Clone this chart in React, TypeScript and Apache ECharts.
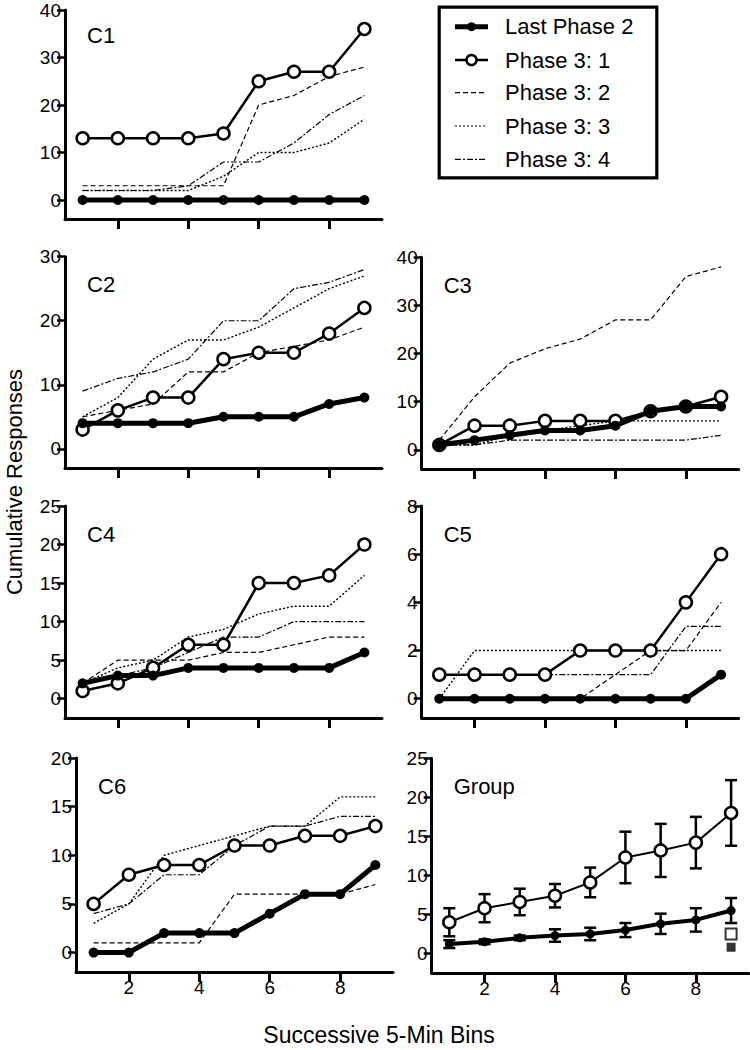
import React, { useEffect, useRef } from "react";
import * as echarts from "echarts";

const FONT = "'Liberation Sans', Arial, Helvetica, sans-serif";

const bins = [1, 2, 3, 4, 5, 6, 7, 8, 9];
const xTicks = [2, 4, 6, 8];
const seriesNames = ["Last Phase 2", "Phase 3: 1", "Phase 3: 2", "Phase 3: 3", "Phase 3: 4"];
const panelNames = ["C1", "C2", "C3", "C4", "C5", "C6", "Group"];

const c1Ticks = [0, 10, 20, 30, 40];
const c1Last = [0, 0, 0, 0, 0, 0, 0, 0, 0];
const c1P1 = [13, 13, 13, 13, 14, 25, 27, 27, 36];
const c1P2 = [3, 3, 3, 3, 3, 20, 22, 26, 28];
const c1P3 = [2, 2, 2, 2, 5, 10, 10, 12, 17];
const c1P4 = [2, 2, 2, 3, 8, 8, 12, 18, 22];

const c2Ticks = [0, 10, 20, 30];
const c2Last = [4, 4, 4, 4, 5, 5, 5, 7, 8];
const c2P1 = [3, 6, 8, 8, 14, 15, 15, 18, 22];
const c2P2 = [5, 6, 7, 12, 12, 15, 16, 17, 19];
const c2P3 = [5, 8, 14, 17, 17, 19, 22, 25, 27];
const c2P4 = [9, 11, 12, 14, 20, 20, 25, 26, 28];

const c3Ticks = [0, 10, 20, 30, 40];
const c3Last = [1, 2, 3, 4, 4, 5, 8, 9, 9];
const c3P1 = [1, 5, 5, 6, 6, 6, 8, 9, 11];
const c3P2 = [2, 11, 18, 21, 23, 27, 27, 36, 38];
const c3P3 = [1, 1, 3, 4, 5, 6, 6, 6, 6];
const c3P4 = [1, 1, 2, 2, 2, 2, 2, 2, 3];

const c4Ticks = [0, 5, 10, 15, 20, 25];
const c4Last = [2, 3, 3, 4, 4, 4, 4, 4, 6];
const c4P1 = [1, 2, 4, 7, 7, 15, 15, 16, 20];
const c4P2 = [2, 5, 5, 5, 6, 6, 7, 8, 8];
const c4P3 = [2, 4, 5, 8, 9, 11, 12, 12, 16];
const c4P4 = [2, 3, 4, 6, 8, 8, 10, 10, 10];

const c5Ticks = [0, 2, 4, 6, 8];
const c5Last = [0, 0, 0, 0, 0, 0, 0, 0, 1];
const c5P1 = [1, 1, 1, 1, 2, 2, 2, 4, 6];
const c5P2 = [0, 0, 0, 0, 0, 1, 2, 2, 4];
const c5P3 = [0, 2, 2, 2, 2, 2, 2, 2, 2];
const c5P4 = [1, 1, 1, 1, 1, 1, 1, 3, 3];

const c6Ticks = [0, 5, 10, 15, 20];
const c6Last = [0, 0, 2, 2, 2, 4, 6, 6, 9];
const c6P1 = [5, 8, 9, 9, 11, 11, 12, 12, 13];
const c6P2 = [1, 1, 1, 1, 6, 6, 6, 6, 7];
const c6P3 = [3, 5, 10, 11, 12, 13, 13, 16, 16];
const c6P4 = [4, 5, 8, 8, 11, 13, 13, 14, 14];

const groupTicks = [0, 5, 10, 15, 20, 25];
const groupLastMean = [1.2, 1.5, 2.0, 2.3, 2.5, 3.0, 3.8, 4.3, 5.5];
const groupLastErr = [0.5, 0.3, 0.3, 0.8, 0.8, 0.9, 1.3, 1.5, 1.6];
const groupP1Mean = [4.0, 5.8, 6.6, 7.4, 9.1, 12.3, 13.2, 14.2, 18.0];
const groupP1Err = [1.8, 1.8, 1.7, 1.5, 1.9, 3.3, 3.4, 3.3, 4.2];
const groupOpenSquare = [[9, 2.5]];
const groupFilledSquare = [[9, 0.8]];

const panelData = [
  { ticks: c1Ticks, lines: [c1Last, c1P1, c1P2, c1P3, c1P4] },
  { ticks: c2Ticks, lines: [c2Last, c2P1, c2P2, c2P3, c2P4] },
  { ticks: c3Ticks, lines: [c3Last, c3P1, c3P2, c3P3, c3P4] },
  { ticks: c4Ticks, lines: [c4Last, c4P1, c4P2, c4P3, c4P4] },
  { ticks: c5Ticks, lines: [c5Last, c5P1, c5P2, c5P3, c5P4] },
  { ticks: c6Ticks, lines: [c6Last, c6P1, c6P2, c6P3, c6P4] },
  { ticks: groupTicks, lines: null },
];

// layout only
const layouts = [
  { left: 65, top: 10, bottom: 219, yMin: -4, yMax: 40, xLabels: false },
  { left: 65, top: 256.7, bottom: 468, yMin: -3, yMax: 30, xLabels: false },
  { left: 421.7, top: 257.3, bottom: 469, yMin: -4, yMax: 40, xLabels: false },
  { left: 65, top: 506, bottom: 718, yMin: -2.5, yMax: 25, xLabels: false },
  { left: 421.7, top: 506, bottom: 718, yMin: -0.8, yMax: 8, xLabels: false },
  { left: 76, top: 758, bottom: 972, yMin: -2, yMax: 20, xLabels: true },
  { left: 431.7, top: 758.3, bottom: 973, yMin: -2.5, yMax: 25, xLabels: true },
];
const GRID_W = 317;

const dashStyles: any[] = [null, null, [5, 3], [2, 2], [6, 2, 2, 2]];

function pairs(vals: number[]) {
  return bins.map((b, i) => [b, vals[i]]);
}

function errData(mean: number[], err: number[]) {
  return bins.map((b, i) => [b, mean[i] - err[i], mean[i] + err[i]]);
}

function errorBarSeries(idx: number, data: number[][], name: string) {
  return {
    type: "custom",
    name,
    xAxisIndex: idx,
    yAxisIndex: idx,
    z: 3,
    encode: { x: 0, y: [1, 2] },
    data,
    renderItem: (params: any, api: any) => {
      const x = api.value(0);
      const lo = api.coord([x, api.value(1)]);
      const hi = api.coord([x, api.value(2)]);
      const hw = 6;
      const st = { stroke: "#000", lineWidth: 2.5 };
      return {
        type: "group",
        children: [
          { type: "line", shape: { x1: lo[0], y1: lo[1], x2: hi[0], y2: hi[1] }, style: st },
          { type: "line", shape: { x1: hi[0] - hw, y1: hi[1], x2: hi[0] + hw, y2: hi[1] }, style: st },
          { type: "line", shape: { x1: lo[0] - hw, y1: lo[1], x2: lo[0] + hw, y2: lo[1] }, style: st },
        ],
      };
    },
  };
}

function lineSeries(k: number, idx: number, vals: number[]) {
  const base: any = {
    type: "line",
    name: seriesNames[k],
    xAxisIndex: idx,
    yAxisIndex: idx,
    data: pairs(vals),
    silent: true,
  };
  if (k === 0) {
    return {
      ...base,
      z: 5,
      symbol: "circle",
      symbolSize: 10,
      lineStyle: { color: "#000", width: 5 },
      itemStyle: { color: "#000" },
    };
  }
  if (k === 1) {
    return {
      ...base,
      z: 4,
      symbol: "circle",
      symbolSize: 12,
      lineStyle: { color: "#000", width: 2.5 },
      itemStyle: { color: "#fff", borderColor: "#000", borderWidth: 2.5 },
    };
  }
  return {
    ...base,
    z: 2,
    symbol: "none",
    lineStyle: { color: "#000", width: k === 3 ? 1.4 : 1.2, type: dashStyles[k] },
  };
}

export default function App() {
  const ref = useRef<HTMLDivElement>(null);
  useEffect(() => {
    if (!ref.current) return;
    const chart = echarts.init(ref.current, null, { renderer: "svg" });
    const grid: any[] = [];
    const xAxis: any[] = [];
    const yAxis: any[] = [];
    const series: any[] = [];
    const graphic: any[] = [];

    layouts.forEach((L, i) => {
      grid.push({
        left: L.left,
        top: L.top,
        width: GRID_W,
        height: L.bottom - L.top,
        containLabel: false,
        outerBoundsMode: "none",
      });
      xAxis.push({
        type: "value",
        gridIndex: i,
        min: 0.5,
        max: 9.5,
        splitLine: { show: false },
        axisLine: { show: true, onZero: false, lineStyle: { color: "#000", width: 3 } },
        axisTick: {
          show: true,
          customValues: xTicks,
          length: 10,
          lineStyle: { color: "#000", width: 3 },
        },
        axisLabel: {
          show: L.xLabels,
          customValues: xTicks,
          color: "#000",
          fontSize: 19,
          fontFamily: FONT,
          margin: 6,
        },
      });
      yAxis.push({
        type: "value",
        gridIndex: i,
        min: L.yMin,
        max: L.yMax,
        splitLine: { show: false },
        axisLine: { show: true, onZero: false, lineStyle: { color: "#000", width: 3 } },
        axisTick: {
          show: true,
          customValues: panelData[i].ticks,
          length: 8,
          lineStyle: { color: "#000", width: 2.5 },
        },
        axisLabel: {
          show: true,
          customValues: panelData[i].ticks,
          color: "#000",
          fontSize: 19,
          fontFamily: FONT,
          margin: 4,
        },
      });
      const lines = panelData[i].lines;
      if (lines) {
        [2, 3, 4, 1, 0].forEach((k) => series.push(lineSeries(k, i, lines[k])));
      }
      graphic.push({
        type: "text",
        left: L.left + 22,
        top: i === 0 ? 24 : L.top + 17,
        style: { text: panelNames[i], fontSize: 22, fontFamily: FONT, fill: "#000" },
      });
    });

    // Group panel
    const g = 6;
    series.push(errorBarSeries(g, errData(groupP1Mean, groupP1Err), "Phase 3: 1 SEM"));
    series.push(errorBarSeries(g, errData(groupLastMean, groupLastErr), "Last Phase 2 SEM"));
    series.push({
      ...lineSeries(1, g, groupP1Mean),
      lineStyle: { color: "#000", width: 2 },
      symbolSize: 12,
    });
    series.push({
      ...lineSeries(0, g, groupLastMean),
      lineStyle: { color: "#000", width: 4 },
      symbolSize: 9,
    });
    series.push({
      type: "scatter",
      name: "open square",
      xAxisIndex: g,
      yAxisIndex: g,
      z: 6,
      symbol: "rect",
      symbolSize: 11,
      data: groupOpenSquare,
      itemStyle: { color: "#fff", borderColor: "#000", borderWidth: 2 },
    });
    series.push({
      type: "scatter",
      name: "filled square",
      xAxisIndex: g,
      yAxisIndex: g,
      z: 6,
      symbol: "rect",
      symbolSize: 9,
      data: groupFilledSquare,
      itemStyle: { color: "#000" },
    });

    // Legend box
    const lx1 = 455;
    const lx2 = 488;
    const rows = [26.7, 60, 92.7, 126, 159.3];
    graphic.push({
      type: "rect",
      shape: { x: 439.2, y: 7.2, width: 217.6, height: 170.6 },
      style: { fill: "#fff", stroke: "#000", lineWidth: 3.2 },
      z: 10,
    });
    rows.forEach((ry, k) => {
      if (k === 0) {
        graphic.push({
          type: "line",
          shape: { x1: lx1, y1: ry, x2: lx2, y2: ry },
          style: { stroke: "#000", lineWidth: 5 },
          z: 11,
        });
        graphic.push({
          type: "circle",
          shape: { cx: (lx1 + lx2) / 2, cy: ry, r: 4.5 },
          style: { fill: "#000" },
          z: 12,
        });
      } else if (k === 1) {
        graphic.push({
          type: "line",
          shape: { x1: lx1, y1: ry, x2: lx2, y2: ry },
          style: { stroke: "#000", lineWidth: 2.5 },
          z: 11,
        });
        graphic.push({
          type: "circle",
          shape: { cx: (lx1 + lx2) / 2, cy: ry, r: 5 },
          style: { fill: "#fff", stroke: "#000", lineWidth: 2.5 },
          z: 12,
        });
      } else {
        graphic.push({
          type: "line",
          shape: { x1: lx1, y1: ry, x2: lx2 - 1, y2: ry },
          style: { stroke: "#000", lineWidth: 1.2, lineDash: dashStyles[k] },
          z: 11,
        });
      }
      graphic.push({
        type: "text",
        x: 505,
        y: ry,
        style: {
          text: seriesNames[k],
          fontSize: 22,
          fontFamily: FONT,
          fill: "#000",
          textVerticalAlign: "middle",
          verticalAlign: "middle",
        },
        z: 12,
      });
    });

    // Axis titles
    graphic.push({
      type: "text",
      x: 14,
      y: 482,
      rotation: Math.PI / 2,
      style: {
        text: "Cumulative Responses",
        fontSize: 22,
        fontFamily: FONT,
        fill: "#000",
        align: "center",
        verticalAlign: "middle",
        textAlign: "center",
        textVerticalAlign: "middle",
      },
    });
    graphic.push({
      type: "text",
      x: 379,
      y: 1035,
      style: {
        text: "Successive 5-Min Bins",
        fontSize: 23,
        fontFamily: FONT,
        fill: "#000",
        align: "center",
        verticalAlign: "middle",
        textAlign: "center",
        textVerticalAlign: "middle",
      },
    });

    chart.setOption({
      animation: false,
      backgroundColor: "#fff",
      textStyle: { fontFamily: FONT },
      grid,
      xAxis,
      yAxis,
      series,
      graphic,
    });
    return () => chart.dispose();
  }, []);

  return (
    <div
      ref={ref}
      style={{ position: "fixed", left: 0, top: 0, width: 750, height: 1050, background: "#fff" }}
    />
  );
}
